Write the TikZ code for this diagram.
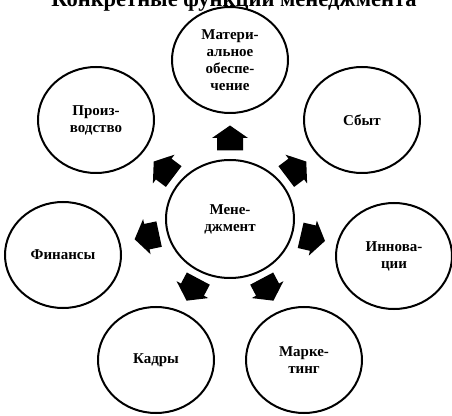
\documentclass[tikz,border=0pt]{standalone}
\usepackage{fontspec}
\setmainfont{Liberation Serif}
\usetikzlibrary{shapes.geometric}
\begin{document}
\begin{tikzpicture}[x=1pt, y=1pt]
\tikzstyle{every node}=[ellipse, draw, line width=2pt, fill=white,
                        minimum width=116pt, minimum height=106pt,
                        inner sep=0pt, align=center,
                        font=\bfseries\fontsize{15}{17}\selectfont]
\tikzstyle{houseArrow}=[fill=black, draw=none]
\useasboundingbox (0,0) rectangle (452,415);
\node[rectangle, draw=none, minimum width=0pt, minimum height=0pt, anchor=base,
      font=\bfseries\fontsize{22.5}{26}\selectfont] (title) at (234,408)
      {Конкретные функции менеджмента};
\node[minimum width=128pt, minimum height=118pt] (M) at (230,196) {Мене-\\джмент};
\node (mat) at (230,355) {Матери-\\альное\\обеспе-\\чение};
\node (sbyt) at (362,295) {Сбыт};
\node (innov) at (394,159) {Иннова-\\ции};
\node (mark) at (304,55) {Марке-\\тинг};
\node (kadry) at (156,55) {Кадры};
\node (fin) at (63,160) {Финансы};
\node (proizv) at (96,295) {Произ-\\водство};
% block arrows from the centre outwards
\foreach \a/\d in {90/81, 37/83, -13/85, -62/80, -118/80, 192/85, 143/83} {
  \path (M.center) ++(\a:\d) coordinate (arr\a);
  \path[houseArrow, shift={(arr\a)}, rotate=\a]
    (-12.5,-13) -- (0,-13) -- (0,-18) -- (12.5,0) -- (0,18) -- (0,13) -- (-12.5,13) -- cycle;
}
\end{tikzpicture}
\end{document}
